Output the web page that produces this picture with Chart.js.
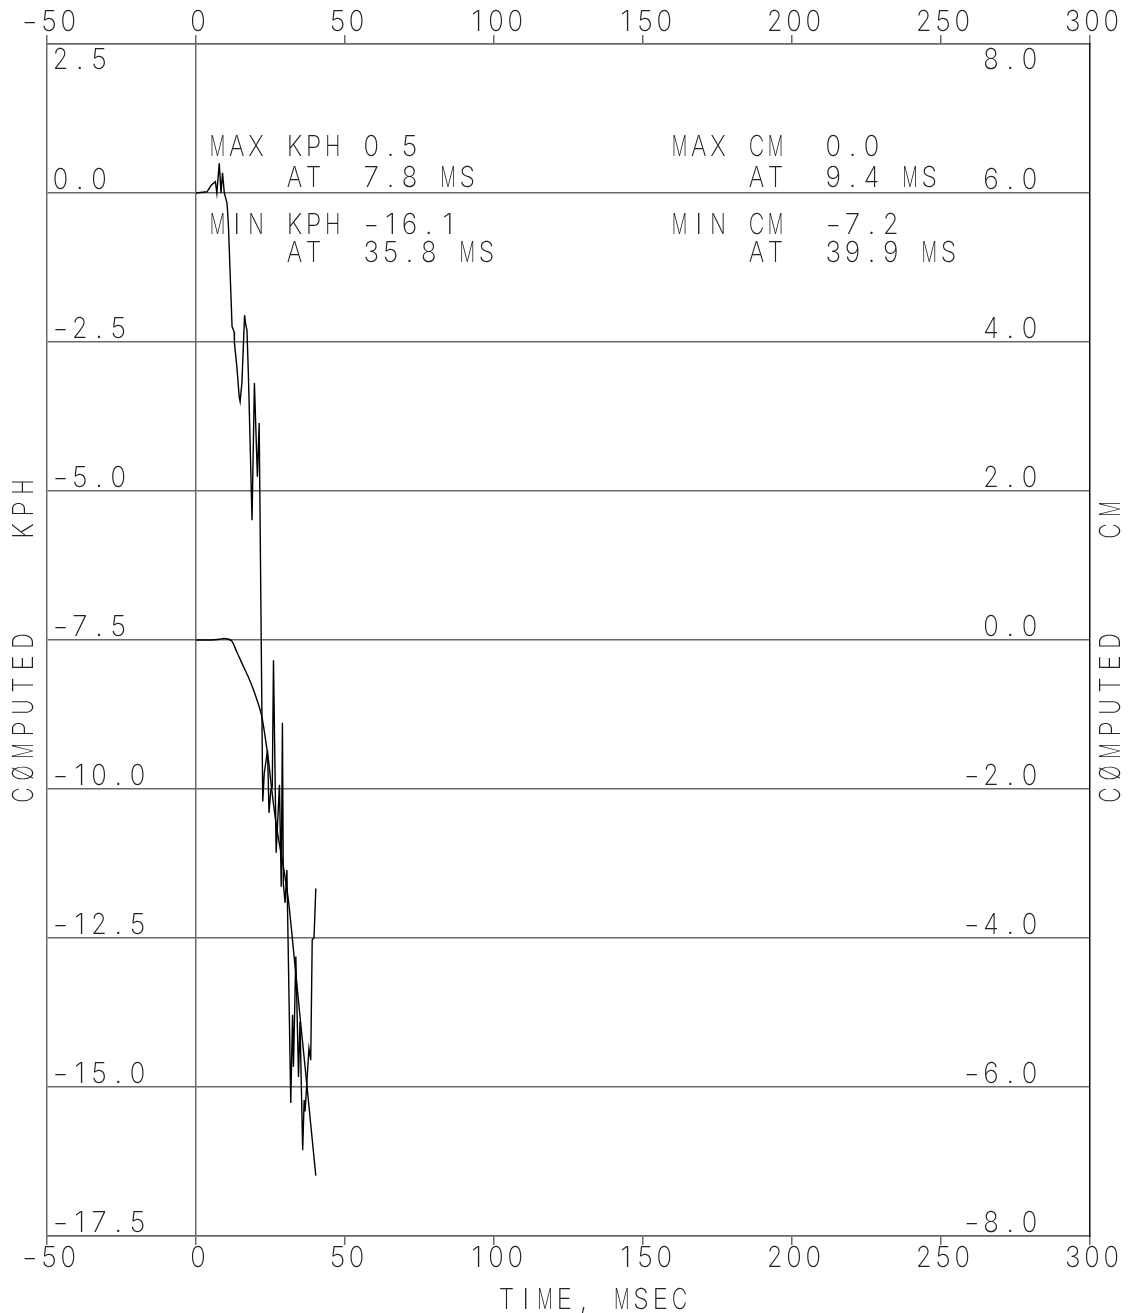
<!DOCTYPE html>
<html lang="en">
<head>
<meta charset="UTF-8">
<title>Computed KPH / CM vs time</title>
<script src="https://cdn.jsdelivr.net/npm/chart.js@4.4.0/dist/chart.umd.min.js"></script>
<style>
    html, body { margin: 0; padding: 0; background: #fff; }
    canvas { display: block; }
</style>
</head>
<body>
<canvas id="chart" width="1132" height="1313"></canvas>
<script>
// velocity trace (left axis, KPH)
const velTime = [0, 3.7, 5.1, 6.5, 7.0, 7.8, 8.4, 8.9, 9.5, 10.4, 10.6, 10.9, 12.1, 12.8, 12.9, 13.7, 14.5, 14.8, 15.4, 16.3,
    16.7, 17.1, 17.6, 18.8, 19.6, 20.6, 21.2, 22.4, 22.9, 24.0, 24.5, 25.1, 25.6, 26.0, 26.9, 28.0, 28.6, 29.0, 29.3, 29.9,
    30.5, 31.8, 32.4, 32.7, 33.5, 34.4, 34.9, 35.8, 36.3, 36.6, 37.9, 38.5, 39.0, 39.6, 40.2];
const velKph = [0, 0.02, 0.13, 0.19, 0.0, 0.5, 0.0, 0.34, 0.0, -0.17, -0.31, -0.57, -2.24, -2.33, -2.52, -2.91, -3.42, -3.50, -3.19, -2.05,
    -2.21, -2.30, -3.08, -5.49, -3.19, -4.76, -3.86, -10.21, -9.74, -9.35, -10.40, -10.02, -9.96, -7.84, -11.07, -9.93, -11.64, -8.89, -11.58, -11.91,
    -11.36, -15.27, -13.79, -14.66, -12.81, -14.83, -13.90, -16.06, -15.22, -15.41, -14.35, -14.55, -12.53, -12.50, -11.67];

// displacement trace (right axis, CM)
const dispTime = [0, 5, 8, 9.4, 11, 12.1, 13.7, 15.4, 17.6, 19.3, 21.0, 22.1, 23.2, 24.3, 25.3, 27.0, 29.3, 31.0, 33.0, 35.0, 37.0, 38.5, 40.2];
const dispCm = [0, 0, 0.01, 0.02, 0.01, -0.02, -0.16, -0.31, -0.5, -0.67, -0.87, -1.03, -1.3, -1.61, -1.97, -2.5, -3.04, -3.49, -4.28, -5.09, -5.89, -6.5, -7.19];

// axis ranges / tick steps
const xRange = [-50, 300], xStep = 50;
const kphRange = [-17.5, 2.5], kphStep = 2.5;
const cmRange = [-8, 8], cmStep = 2;

// text blocks
const kphNotes = ['MAX KPH 0.5', '    AT  7.8 MS', 'MIN KPH -16.1', '    AT  35.8 MS'];
const cmNotes = ['MAX CM  0.0', '    AT  9.4 MS', 'MIN CM  -7.2', '    AT  39.9 MS'];
const xTitle = 'TIME, MSEC';
const leftTitle = 'CØMPUTED    KPH';
const rightTitle = 'CØMPUTED    CM';

const FONT = '200 29px Inter, Lato, Roboto, "DejaVu Sans", sans-serif';
const PITCH = 19.2;
const GLYPH_W = 15.5;
const HALF_CAP = 10.5;
const INK = '#222';
const GRID = '#6a6a6a';

const minus = s => s.replace(/-/g, '\u2212');

// draws text on a fixed character grid, like the plotter font
function putText(ctx, text, x, y, align, pitch) {
    pitch = pitch || PITCH;
    const w = text.length * pitch;
    const x0 = align === 'center' ? x - w / 2 : align === 'right' ? x - w : x;
    for (let i = 0; i < text.length; i++) {
        const ch = text[i];
        if (ch === ' ') continue;
        const m = ctx.measureText(ch).width;
        const sx = Math.min(1, GLYPH_W / m);
        ctx.save();
        ctx.translate(x0 + (i + 0.5) * pitch, y + HALF_CAP);
        ctx.scale(sx, 1);
        ctx.fillText(ch, 0, 0);
        ctx.restore();
    }
}

const labelsPlugin = {
    id: 'plotLabels',
    afterDraw(chart) {
        const { ctx, chartArea: a, scales } = chart;
        ctx.save();
        ctx.font = FONT;
        ctx.fillStyle = INK;
        ctx.textAlign = 'center';
        ctx.textBaseline = 'alphabetic';

        scales.x.ticks.forEach(t => {
            const px = scales.x.getPixelForValue(t.value) + 2;
            const txt = minus(String(t.value));
            putText(ctx, txt, px, a.top - 24, 'center');
            putText(ctx, txt, px, a.bottom + 20, 'center');
        });

        scales.y.ticks.forEach(t => {
            const py = scales.y.getPixelForValue(t.value);
            const cy = py <= a.top + 1 ? py + 14 : py - 15;
            putText(ctx, minus(t.value.toFixed(1)), a.left + 4, cy, 'left');
        });

        scales.y1.ticks.forEach(t => {
            const py = scales.y1.getPixelForValue(t.value);
            const cy = py <= a.top + 1 ? py + 14 : py - 15;
            putText(ctx, minus(t.value.toFixed(1)), a.right - 51, cy, 'right');
        });

        const rows = [145.5, 176.7, 223, 251.7];
        kphNotes.forEach((s, i) => putText(ctx, minus(s), 208, rows[i], 'left'));
        cmNotes.forEach((s, i) => putText(ctx, minus(s), 670, rows[i], 'left'));

        putText(ctx, xTitle, 593, a.bottom + 62, 'center');

        [[leftTitle, 22], [rightTitle, 1109]].forEach(([s, x]) => {
            ctx.save();
            ctx.translate(x, 806);
            ctx.rotate(-Math.PI / 2);
            putText(ctx, s, 0, 0, 'left', 22);
            ctx.restore();
        });
        ctx.restore();
    }
};

const pts = (xs, ys) => xs.map((x, i) => ({ x: x, y: ys[i] }));

new Chart(document.getElementById('chart'), {
    type: 'line',
    data: {
        datasets: [
            { label: 'KPH', data: pts(velTime, velKph), xAxisID: 'x', yAxisID: 'y', borderColor: '#000', borderWidth: 1.4, pointRadius: 0, tension: 0 },
            { label: 'CM', data: pts(dispTime, dispCm), xAxisID: 'x', yAxisID: 'y1', borderColor: '#000', borderWidth: 1.4, pointRadius: 0, tension: 0.3 }
        ]
    },
    options: {
        responsive: false,
        animation: false,
        devicePixelRatio: 1,
        layout: { padding: 0 },
        plugins: { legend: { display: false }, tooltip: { enabled: false } },
        scales: {
            x: {
                type: 'linear', position: 'bottom', min: xRange[0], max: xRange[1],
                ticks: { stepSize: xStep, display: false },
                grid: { color: c => (c.tick && c.tick.value === 0 ? GRID : 'rgba(0,0,0,0)'), tickColor: GRID, tickLength: 9, lineWidth: 1.5 },
                border: { color: GRID, width: 1.5 },
                afterFit: s => { s.height = 77; }
            },
            x2: {
                type: 'linear', position: 'top', min: xRange[0], max: xRange[1],
                ticks: { stepSize: xStep, display: false },
                grid: { drawOnChartArea: false, tickColor: GRID, tickLength: 9, lineWidth: 1.5 },
                border: { color: GRID, width: 1.5 },
                afterFit: s => { s.height = 44; }
            },
            y: {
                position: 'left', min: kphRange[0], max: kphRange[1],
                ticks: { stepSize: kphStep, display: false },
                grid: { color: GRID, drawTicks: false, lineWidth: 1.5 },
                border: { color: GRID, width: 1.5 },
                afterFit: s => { s.width = 47; }
            },
            y1: {
                position: 'right', min: cmRange[0], max: cmRange[1],
                ticks: { stepSize: cmStep, display: false },
                grid: { drawOnChartArea: false, drawTicks: false },
                border: { color: '#111', width: 1.5 },
                afterFit: s => { s.width = 42; }
            }
        }
    },
    plugins: [labelsPlugin]
});
</script>
</body>
</html>
